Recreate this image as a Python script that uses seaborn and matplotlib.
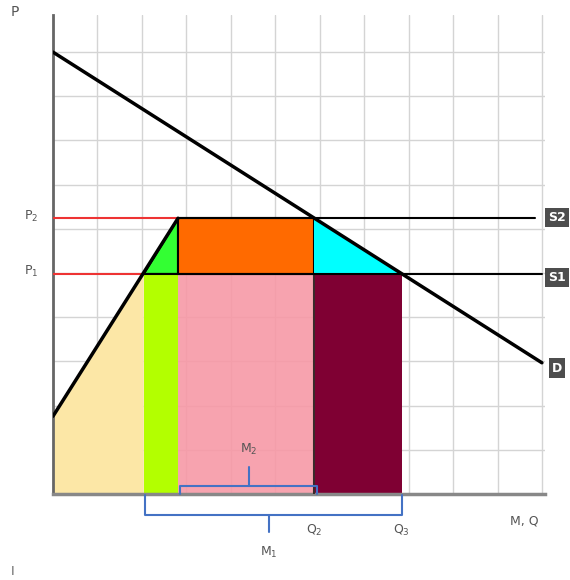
import matplotlib
matplotlib.use("Agg")
import matplotlib.pyplot as plt
import seaborn as sns
import numpy as np

# ---- data (chart units: one grid square = 1) ----
P1 = 4.98            # world price
P2 = 6.24            # price with tariff
q_s1 = 2.04          # domestic supply at P1
q_s2 = 2.81          # domestic supply at P2
Q2 = 5.875           # demand at P2
Q3 = 7.84            # demand at P1
demand_x = [0.0, 10.99]
demand_y = [10.0, 2.97]
supply_x = [0.0, 2.81]
supply_y = [1.76, 6.24]
s1_end = 10.99
s2_end = 10.83
line_labels = ["S2", "S1", "D"]
line_label_y = [6.25, 4.9, 2.85]

sns.set_style("whitegrid")
plt.rcParams['font.family'] = ['DejaVu Sans']

fig = plt.figure(figsize=(5.7, 5.8), dpi=100)
ax = fig.add_axes([53/570, 86/580, (545-53)/570, (494-15)/580])
ax.set_xlim(0, 11.06)
ax.set_ylim(0, 10.84)
ax.set_xticks(np.arange(0, 12))
ax.set_yticks(np.arange(0, 11))
ax.set_xticklabels([])
ax.set_yticklabels([])
ax.tick_params(length=0)
ax.grid(True, color="#d4d4d4", lw=1.0)
ax.set_axisbelow(True)
for s in ["top", "right"]:
    ax.spines[s].set_visible(False)
ax.spines["left"].set_color("#666666")
ax.spines["left"].set_linewidth(2)
ax.spines["bottom"].set_color("#888888")
ax.spines["bottom"].set_linewidth(2.5)

# beige: producer area under supply up to world price
ax.fill([0, supply_x[0], q_s1, q_s1], [0, supply_y[0], P1, 0], color="#FCE7A6", lw=0, zorder=1)
# lime: extra domestic production
ax.fill([q_s1, q_s1, q_s2, q_s2], [0, P1, P1, 0], color="#B3FF00", lw=0, zorder=1)
# pink: imports M2 value
ax.fill([q_s2, q_s2, Q2, Q2], [0, P1, P1, 0], color="#F799A6", alpha=0.9, lw=0, zorder=1)
# maroon
ax.fill([Q2, Q2, Q3, Q3], [0, P1, P1, 0], color="#7F0033", lw=0, zorder=1)
# green triangle
ax.fill([q_s1, q_s2, q_s2], [P1, P2, P1], facecolor="#33FF33", edgecolor="black", lw=1.5, zorder=2)
# orange rectangle
ax.fill([q_s2, q_s2, Q2, Q2], [P1, P2, P2, P1], facecolor="#FF6A00", edgecolor="black", lw=1.5, zorder=2)
# cyan triangle
ax.fill([Q2, Q2, Q3], [P2, P1, P1], facecolor="#00FFFF", edgecolor="none", lw=0, zorder=2)
# Q2 vertical line
ax.plot([Q2, Q2], [0, P1], color="#3a2a2a", lw=1.5, zorder=3)

# red price lines
ax.plot([0, q_s2], [P2, P2], color="#EE3333", lw=1.5, zorder=3)
ax.plot([0, q_s1], [P1, P1], color="#EE3333", lw=1.5, zorder=3)

# supply lines S1 and S2
sns.lineplot(x=[q_s2, s2_end], y=[P2, P2], color="black", lw=1.5, ax=ax, zorder=4)
sns.lineplot(x=[q_s1, s1_end], y=[P1, P1], color="black", lw=1.5, ax=ax, zorder=4)
# demand and domestic supply
sns.lineplot(x=demand_x, y=demand_y, color="black", lw=2.5, ax=ax, zorder=5)
sns.lineplot(x=supply_x, y=supply_y, color="black", lw=2.5, ax=ax, zorder=5)

# line labels
for lab, yy in zip(line_labels, line_label_y):
    ax.text(11.33, yy, lab, color="white", fontsize=9, fontweight="bold",
            ha="center", va="center", clip_on=False,
            bbox=dict(boxstyle="square,pad=0.25", fc="#4d4d4d", ec="none"))

txt = "#555555"
ax.text(-0.85, 10.9, "P", color=txt, fontsize=10, ha="center", va="center", clip_on=False)
ax.text(-0.5, P2 + 0.05, "P$_2$", color=txt, fontsize=9, ha="center", va="center", clip_on=False)
ax.text(-0.5, P1 + 0.05, "P$_1$", color=txt, fontsize=9, ha="center", va="center", clip_on=False)
ax.text(10.6, -0.6, "M, Q", color=txt, fontsize=9, ha="center", va="center", clip_on=False)
ax.text(Q2, -0.82, "Q$_2$", color=txt, fontsize=9, ha="center", va="center", clip_on=False)
ax.text(Q3, -0.82, "Q$_3$", color=txt, fontsize=9, ha="center", va="center", clip_on=False)
ax.text(4.4, 1.0, "M$_2$", color=txt, fontsize=9, ha="center", va="center", clip_on=False)
ax.text(4.85, -1.32, "M$_1$", color=txt, fontsize=9, ha="center", va="center", clip_on=False)
ax.text(-0.92, -1.76, "I", color="#666666", fontsize=9, ha="center", va="center", clip_on=False)

blue = "#4472C4"
# M2 brace
x0, x1, ym = q_s2 + 0.05, Q2 + 0.05, 4.4
ax.plot([x0, x0, x1, x1], [0.0, 0.18, 0.18, 0.0], color=blue, lw=1.5, zorder=6, clip_on=False)
ax.plot([ym, ym], [0.18, 0.62], color=blue, lw=1.5, zorder=6, clip_on=False)
# M1 brace
x0, x1, ym = q_s1 + 0.03, Q3, 4.85
ax.plot([x0, x0, x1, x1], [-0.02, -0.48, -0.48, -0.02], color=blue, lw=1.5, zorder=6, clip_on=False)
ax.plot([ym, ym], [-0.48, -0.86], color=blue, lw=1.5, zorder=6, clip_on=False)

fig.savefig("out.png", dpi=100)
